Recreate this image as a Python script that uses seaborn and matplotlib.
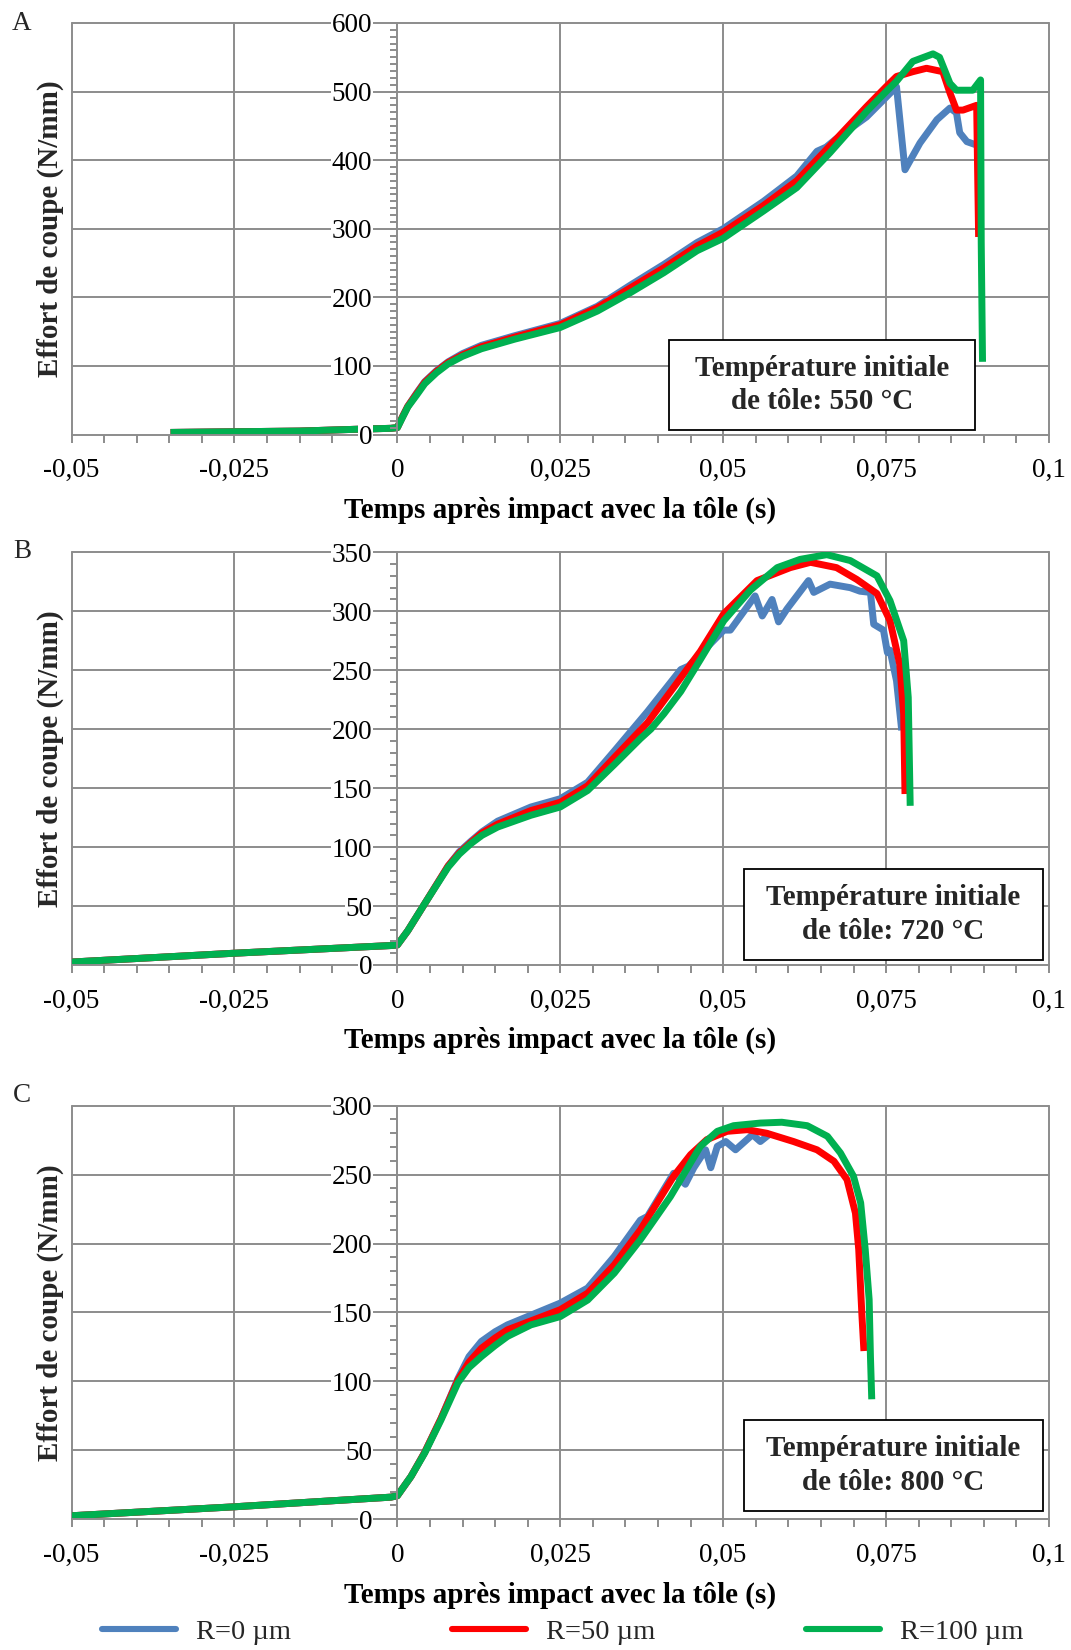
import numpy as np
import pandas as pd
import matplotlib
matplotlib.use("Agg")
import matplotlib.pyplot as plt
from matplotlib.patches import Rectangle
from matplotlib.ticker import MultipleLocator, FixedLocator
from matplotlib.lines import Line2D
import seaborn as sns

# ---------------- data ----------------
series_labels = ["R=0 µm", "R=50 µm", "R=100 µm"]
series_colors = ["#4F81BD", "#FF0000", "#00B050"]
x_tick_values = [-0.05, -0.025, 0, 0.025, 0.05, 0.075, 0.1]
x_tick_labels = ["-0,05", "-0,025", "0", "0,025", "0,05", "0,075", "0,1"]
panel_letters = ["A", "B", "C"]
panel_texts = ["Température initiale\nde tôle: 550 °C",
               "Température initiale\nde tôle: 720 °C",
               "Température initiale\nde tôle: 800 °C"]
y_max = [600, 350, 300]
y_major = [100, 50, 50]

# Panel A (550 °C)
a_blue_t = [-0.0348, -0.025, -0.015, -0.005, -0.001, 0.0, 0.0008, 0.0016, 0.003, 0.0042, 0.006, 0.0078,
            0.010, 0.0129, 0.018, 0.025, 0.0307, 0.0358, 0.0409, 0.046, 0.05, 0.0562, 0.0613, 0.0644,
            0.0658, 0.0672, 0.072, 0.0766, 0.0779, 0.0802, 0.0828, 0.0848, 0.0858, 0.0863, 0.0874, 0.0889]
a_blue_f = [3, 4, 5, 8, 9, 10, 26, 41, 61, 77, 93, 106,
            118, 130, 144, 162, 187, 218, 248, 280, 300, 340, 377, 413,
            419, 430, 463, 507, 386, 425, 459, 476, 469, 440, 427, 422]
a_red_t = [-0.0348, -0.025, -0.015, -0.005, -0.001, 0.0, 0.0008, 0.0016, 0.003, 0.0042, 0.006, 0.0078,
           0.010, 0.0129, 0.018, 0.025, 0.0307, 0.0358, 0.0409, 0.046, 0.05, 0.0562, 0.0613, 0.0654,
           0.072, 0.075, 0.0766, 0.0791, 0.0812, 0.0837, 0.0848, 0.0858, 0.0868, 0.0889, 0.0891, 0.0892]
a_red_f = [3, 4, 5, 8, 9, 10, 26, 41, 60, 76, 92, 105,
           116, 128, 142, 160, 185, 214, 243, 275, 295, 334, 370, 411,
           478, 507, 522, 529, 534, 529, 498, 473, 473, 480, 350, 288]
a_green_t = [-0.0348, -0.025, -0.015, -0.005, -0.001, 0.0, 0.0008, 0.0016, 0.003, 0.0042, 0.006, 0.0078,
             0.010, 0.0129, 0.018, 0.025, 0.0307, 0.0358, 0.0409, 0.046, 0.05, 0.0562, 0.0613, 0.0664,
             0.072, 0.075, 0.0766, 0.0791, 0.0822, 0.0832, 0.0848, 0.0858, 0.0883, 0.0895, 0.0896, 0.0898]
a_green_f = [3, 4, 5, 8, 9, 10, 25, 40, 58, 74, 90, 103,
             114, 125, 139, 156, 180, 207, 236, 268, 286, 326, 360, 411,
             471, 500, 515, 544, 555, 550, 512, 502, 502, 517, 280, 106]

# Panel B (720 °C)
b_blue_t = [-0.05, -0.025, -0.001, 0.0, 0.0016, 0.0042, 0.0078, 0.0095, 0.0113, 0.013, 0.0154, 0.0205,
            0.025, 0.0292, 0.0333, 0.0384, 0.0435, 0.0447, 0.0501, 0.0511, 0.0549, 0.056, 0.0575, 0.0585,
            0.0598, 0.0631, 0.0639, 0.0664, 0.0695, 0.071, 0.0726, 0.0731, 0.0746, 0.0752, 0.0756, 0.0766,
            0.0774]
b_blue_f = [2.5, 10, 16.5, 17, 29, 52, 84, 96, 105, 113, 122, 134,
            141, 155, 181.5, 215, 250.6, 253.5, 284, 284, 313, 296, 310, 291,
            302, 326, 316, 323, 320, 317, 316, 289, 284, 265, 267, 241,
            199]
b_red_t = [-0.05, -0.025, -0.001, 0.0, 0.0016, 0.0042, 0.0078, 0.0095, 0.0113, 0.013, 0.0154, 0.0205,
           0.025, 0.0292, 0.0333, 0.0384, 0.0435, 0.0465, 0.0501, 0.0552, 0.0603, 0.0634, 0.0674, 0.0705,
           0.0736, 0.0756, 0.0771, 0.0777, 0.0779]
b_red_f = [2.5, 10, 16.5, 17, 29, 52, 84, 95, 104, 112, 119.5, 131,
           138, 152, 176, 205.5, 243.6, 266, 298, 326, 337, 341.5, 337, 327,
           315, 292, 255, 213, 145]
b_green_t = [-0.05, -0.025, -0.001, 0.0, 0.0016, 0.0042, 0.0078, 0.0095, 0.0113, 0.013, 0.0154, 0.0205,
             0.025, 0.0292, 0.0333, 0.0373, 0.0389, 0.0409, 0.0435, 0.0465, 0.0501, 0.0542, 0.0583, 0.0618,
             0.0659, 0.0695, 0.0736, 0.0756, 0.0777, 0.0784, 0.0787]
b_green_f = [2.5, 10, 16.5, 17, 29, 52, 83, 94, 103, 110, 117, 127,
             134, 148, 170, 192, 200, 213, 232, 259, 292, 318, 337, 344,
             348, 343, 330, 309, 275, 227, 135]

# Panel C (800 °C)
c_blue_t = [-0.05, -0.025, -0.001, 0.0, 0.0021, 0.0042, 0.0067, 0.0093, 0.011, 0.0129, 0.015, 0.0169,
            0.025, 0.0292, 0.0333, 0.0373, 0.0384, 0.0424, 0.0442, 0.0455, 0.0473, 0.0481, 0.0491, 0.0504,
            0.0519, 0.0545, 0.0557, 0.0573]
c_blue_f = [2.5, 9, 16, 17, 31, 48.5, 73, 102, 118, 129, 136, 141,
            156.8, 167.7, 190.7, 217, 219.7, 251, 243, 255, 268, 255, 270.5, 274,
            268, 279, 274, 280]
c_red_t = [-0.05, -0.025, -0.001, 0.0, 0.0021, 0.0042, 0.0067, 0.0093, 0.011, 0.0129, 0.015, 0.0169,
           0.025, 0.0292, 0.0333, 0.0373, 0.0424, 0.045, 0.0475, 0.0506, 0.0537, 0.0567, 0.0608, 0.0644,
           0.067, 0.069, 0.0703, 0.0708, 0.0713, 0.0716]
c_red_f = [2.5, 9, 16, 17, 31, 48.5, 73, 101, 114, 124, 131.5, 137.4,
           152, 164, 184.6, 210, 248.8, 264.5, 275.4, 281.4, 282.6, 280, 274, 268,
           259.7, 246.4, 222, 195.7, 147.3, 122]
c_green_t = [-0.05, -0.025, -0.001, 0.0, 0.0021, 0.0042, 0.0067, 0.0093, 0.011, 0.0129, 0.015, 0.0169,
             0.0205, 0.025, 0.0292, 0.0333, 0.0373, 0.0419, 0.0465, 0.0491, 0.0516, 0.0557, 0.059, 0.0629,
             0.066, 0.068, 0.07, 0.0711, 0.0718, 0.0724, 0.0726, 0.0728]
c_green_f = [2.5, 9, 16, 17, 31, 48, 72, 99, 110, 118, 126, 132.6,
             141, 147, 159, 178.6, 202.8, 234, 270.5, 281.4, 285.5, 287.4, 288, 285.5,
             277.8, 265.7, 248.8, 229.5, 195.7, 159.4, 118, 87]

panels = [
    [(a_blue_t, a_blue_f), (a_red_t, a_red_f), (a_green_t, a_green_f)],
    [(b_blue_t, b_blue_f), (b_red_t, b_red_f), (b_green_t, b_green_f)],
    [(c_blue_t, c_blue_f), (c_red_t, c_red_f), (c_green_t, c_green_f)],
]

# ---------------- style ----------------
sns.set_theme(style="white")
plt.rcParams["font.family"] = ["Liberation Serif", "DejaVu Serif"]

W, H = 1071, 1650
fig = plt.figure(figsize=(W / 100, H / 100), dpi=100)
fig.patch.set_facecolor("white")

grid_c = "#8C8C8C"
fs_tick = 19.5
fs_title = 21
fs_box = 21
fs_leg = 20.5
lw_curve = 5.0

# axes boxes in pixel coords (left, top, right, bottom)
ax_px = [(71.5, 23.0, 1049.0, 434.5), (71.5, 552.3, 1049.0, 965.0), (71.5, 1105.7, 1049.0, 1519.2)]
box_px = [(669, 340, 975, 430), (744, 869, 1043, 960), (744, 1420, 1043, 1511)]
letter_px = [(22, 23), (22, 551), (22, 1095)]
xlabel_y = [510, 1040, 1595]

for i, (series, ymx, ymaj) in enumerate(zip(panels, y_max, y_major)):
    l, t, r, b = ax_px[i]
    ax = fig.add_axes([l / W, 1 - b / H, (r - l) / W, (b - t) / H])
    rows = []
    for lab, (tt, ff) in zip(series_labels, series):
        for tv, fv in zip(tt, ff):
            rows.append({"t": tv, "F": fv, "R": lab})
    df = pd.DataFrame(rows)
    sns.lineplot(data=df, x="t", y="F", hue="R", hue_order=series_labels,
                 palette=series_colors, sort=False, estimator=None,
                 linewidth=lw_curve, legend=False, ax=ax, zorder=2,
                 solid_capstyle="butt", solid_joinstyle="round")
    ax.set_xlim(-0.05, 0.1)
    ax.set_ylim(0, ymx)
    ax.set_facecolor("white")
    ax.patch.set_alpha(0)

    # grid lines (drawn below curves)
    yt = list(np.arange(0, ymx + 1, ymaj))
    for yv in yt[1:]:
        ax.axhline(yv, color=grid_c, lw=1.4, zorder=0.5, clip_on=False)
    for xv in x_tick_values:
        if xv != 0:
            ax.axvline(xv, color=grid_c, lw=1.4, zorder=0.5, clip_on=False)

    for s in ["top", "right"]:
        ax.spines[s].set_visible(False)
    ax.spines["left"].set_position(("data", 0))
    ax.spines["left"].set_color(grid_c)
    ax.spines["left"].set_linewidth(1.4)
    ax.spines["bottom"].set_color(grid_c)
    ax.spines["bottom"].set_linewidth(1.4)
    ax.xaxis.set_zorder(2.5)
    ax.yaxis.set_zorder(2.5)

    ax.xaxis.set_major_locator(FixedLocator(x_tick_values))
    ax.set_xticklabels(x_tick_labels)
    ax.xaxis.set_minor_locator(MultipleLocator(0.005))
    ax.yaxis.set_major_locator(FixedLocator(yt))
    ax.set_yticklabels([str(int(v)) for v in yt])
    ax.yaxis.set_minor_locator(MultipleLocator(10))
    ax.tick_params(axis="x", which="both", direction="out", length=6, width=1.4,
                   color=grid_c, pad=11, labelsize=fs_tick, labelcolor="black", bottom=True)
    ax.tick_params(axis="y", which="both", direction="out", length=5, width=1.4,
                   color=grid_c, pad=13, labelsize=fs_tick, labelcolor="black", left=True)
    for lab in ax.get_yticklabels():
        lab.set_bbox(dict(facecolor="white", edgecolor="none", pad=0.3))

    ax.set_xlabel("Temps après impact avec la tôle (s)", fontsize=fs_title,
                  fontweight="bold", color="black")
    ax.xaxis.set_label_coords(0.5, -(xlabel_y[i] - b) / (b - t))
    ax.xaxis.label.set_va("center")
    ax.set_ylabel("")

    # y title
    fig.text(50 / W, 1 - ((t + b) / 2) / H, "Effort de coupe (N/mm)", rotation=90,
             ha="center", va="center", fontsize=fs_title, fontweight="bold")
    # panel letter
    fig.text(letter_px[i][0] / W, 1 - letter_px[i][1] / H, panel_letters[i],
             ha="center", va="center", fontsize=fs_tick)
    # annotation box
    bl, bt, br, bb = box_px[i]
    fig.patches.append(Rectangle((bl / W, 1 - bb / H), (br - bl) / W, (bb - bt) / H,
                                 transform=fig.transFigure, facecolor="white",
                                 edgecolor="black", linewidth=1.3, zorder=3))
    fig.text(((bl + br) / 2) / W, 1 - ((bt + bb) / 2) / H, panel_texts[i],
             ha="center", va="center", fontsize=fs_box, fontweight="bold",
             linespacing=1.3, zorder=4)

# legend: one entry per position
legend_x = [102, 452, 806]
for lab, col, lx in zip(series_labels, series_colors, legend_x):
    h = Line2D([0], [0], color=col, lw=4.4)
    fig.legend([h], [lab], loc="center left", bbox_to_anchor=(lx / W, 1 - 1632 / H),
               frameon=False, fontsize=fs_leg, handlelength=2.6, handletextpad=0.7,
               borderpad=0, borderaxespad=0)

fig.savefig("out.png", dpi=100, facecolor="white")
